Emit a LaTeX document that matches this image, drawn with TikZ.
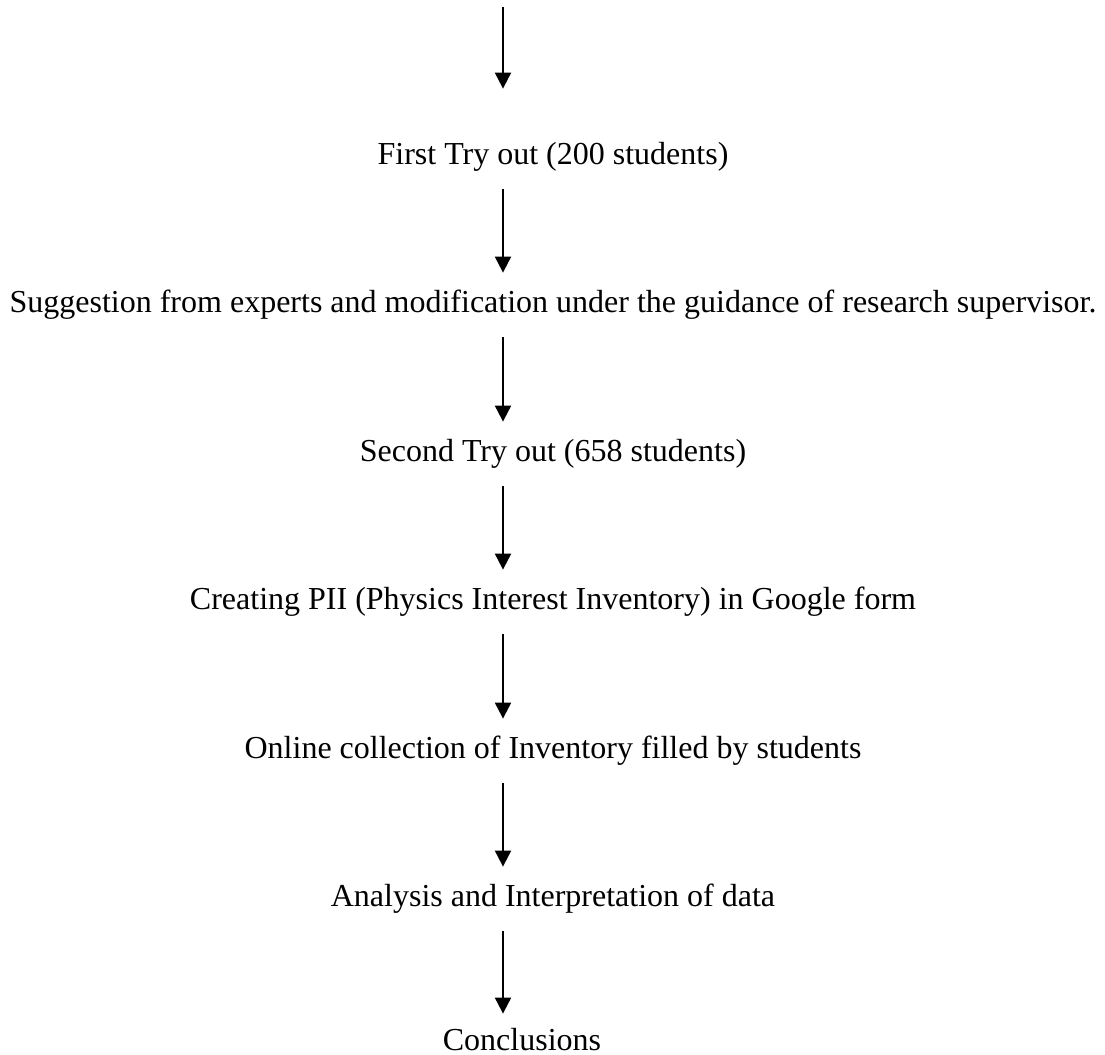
\documentclass[tikz,border=0pt]{standalone}
\usepackage{fontspec}
\setmainfont{Liberation Serif}
\usetikzlibrary{arrows.meta}
\begin{document}
\begin{tikzpicture}[x=0.5pt,y=-0.5pt,
  stage/.style={anchor=base,inner sep=0pt,text height=10.5pt,text depth=3.5pt,
    font=\fontsize{16}{19.2}\selectfont},
  flow/.style={line width=1pt,-{Triangle[width=8pt,length=8pt]},shorten <=9pt,shorten >=9pt}]
\useasboundingbox (0,0) rectangle (1105,1055);
\coordinate (ax) at (503,0);
\coordinate (start) at (503,7);
\node[stage] (t1) at (553,164) {First Try out (200 students)};
\node[stage] (t2) at (553,312) {Suggestion from experts and modification under the guidance of research supervisor.};
\node[stage] (t3) at (553,461) {Second Try out (658 students)};
\node[stage] (t4) at (553,609) {Creating PII (Physics Interest Inventory) in Google form};
\node[stage] (t5) at (553,758) {Online collection of Inventory filled by students};
\node[stage] (t6) at (553,906) {Analysis and Interpretation of data};
\node[stage,text depth=0pt] (t7) at (522,1050) {Conclusions};
\draw[flow,shorten <=0pt,shorten >=27pt] (start) -- (t1.north -| ax);
\draw[flow] (t1.south -| ax) -- (t2.north -| ax);
\draw[flow] (t2.south -| ax) -- (t3.north -| ax);
\draw[flow] (t3.south -| ax) -- (t4.north -| ax);
\draw[flow] (t4.south -| ax) -- (t5.north -| ax);
\draw[flow] (t5.south -| ax) -- (t6.north -| ax);
\draw[flow,shorten >=7.5pt] (t6.south -| ax) -- (t7.north -| ax);
\end{tikzpicture}
\end{document}
